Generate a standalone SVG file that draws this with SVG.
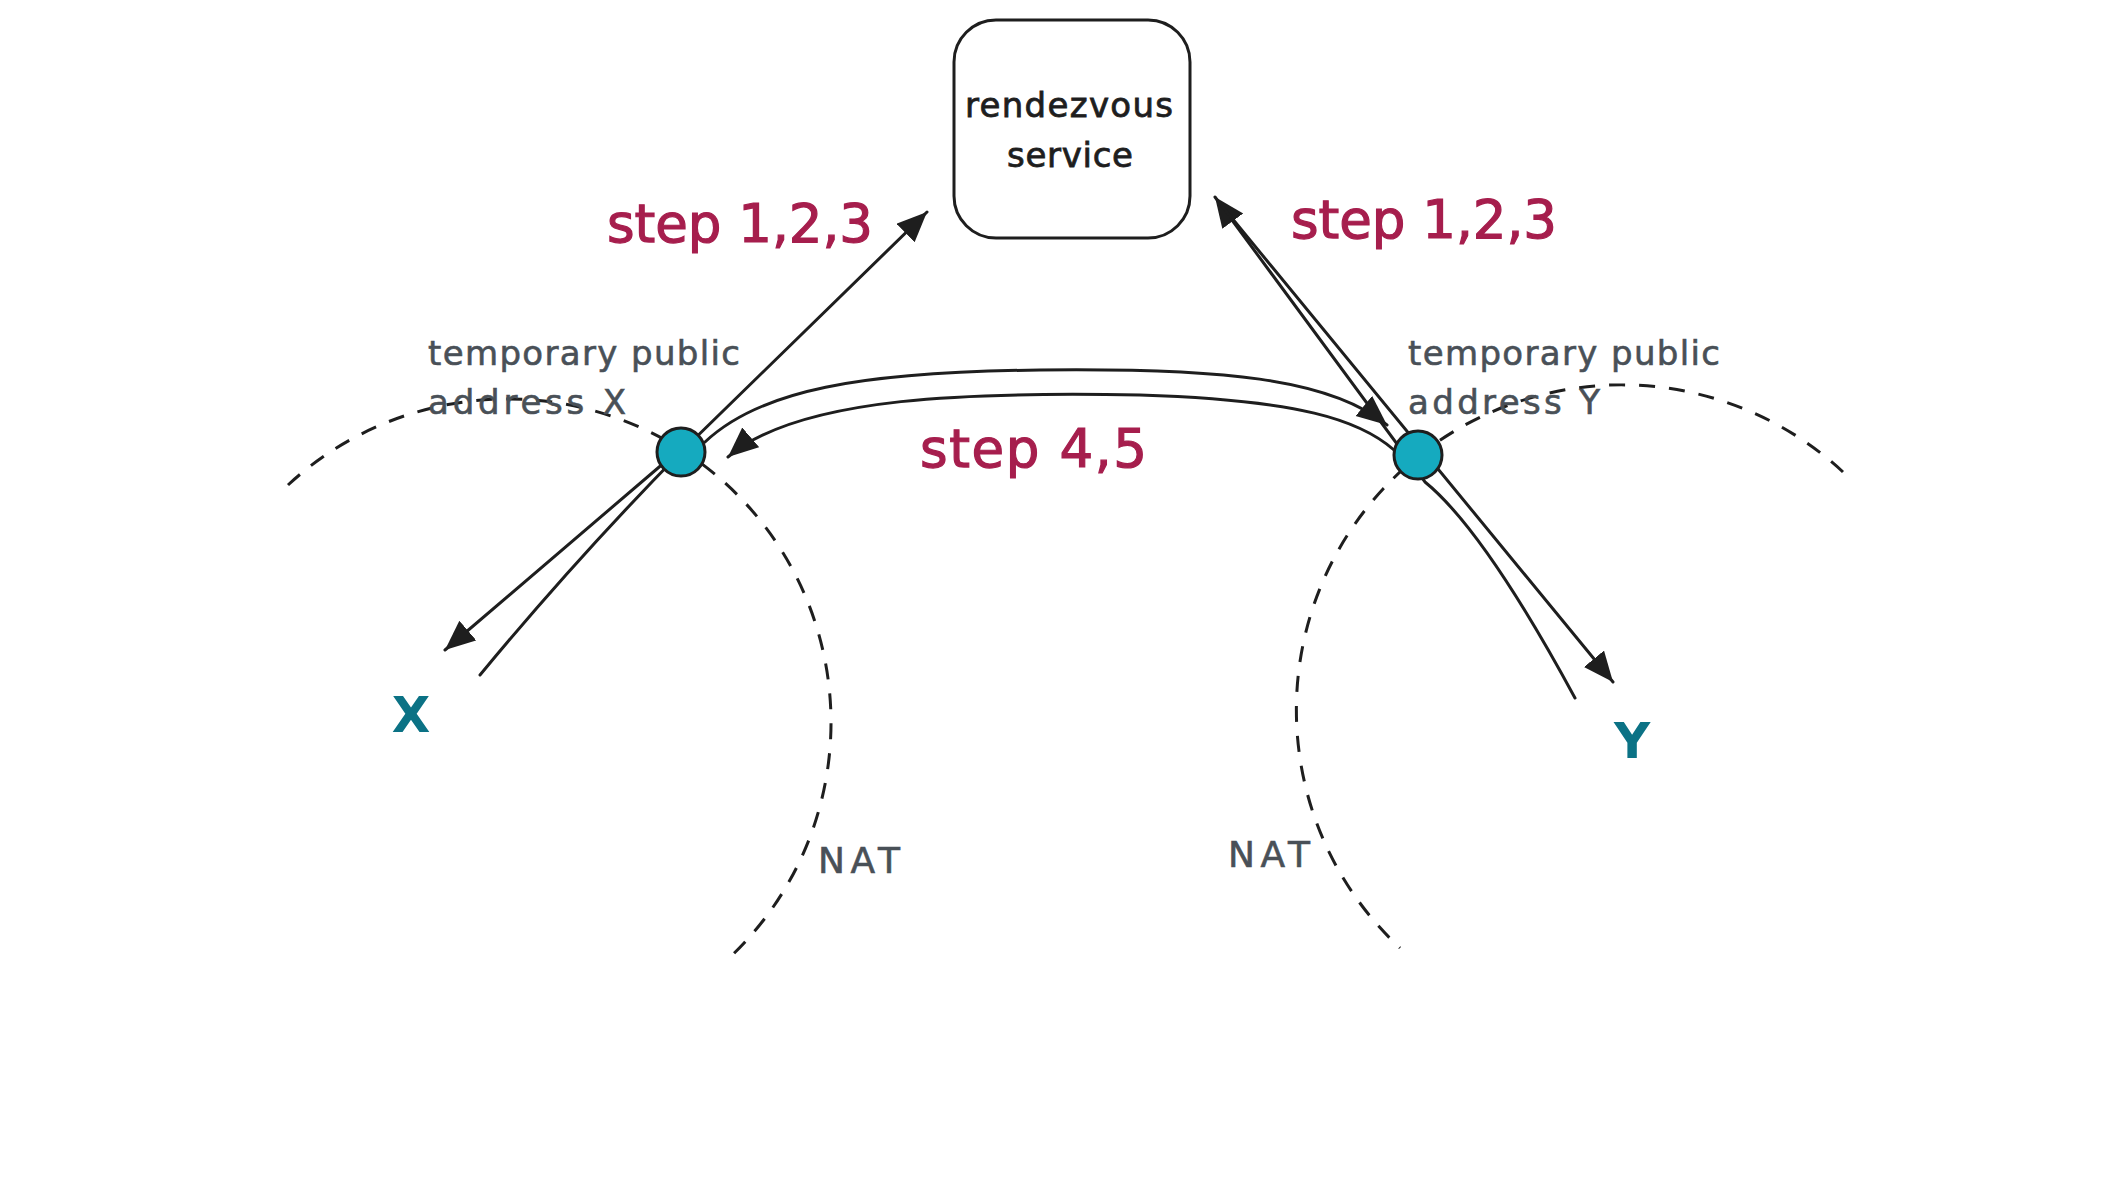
<svg xmlns="http://www.w3.org/2000/svg" width="2123" height="1192" viewBox="0 0 2123 1192">
<style>
  text { font-family: "DejaVu Sans", "Liberation Sans", sans-serif; }
  .step { fill: #a61e4d; stroke: #a61e4d; stroke-width: 1.2; font-size: 53px; }
  .gray { fill: #495057; stroke: #495057; stroke-width: 0.6; font-size: 34px; }
  .nat { fill: #495057; stroke: #495057; stroke-width: 0.6; font-size: 36px; }
  .peer { fill: #0b7285; font-size: 50px; font-weight: bold; }
  .box { fill: #ffffff; stroke: #1e1e1e; stroke-width: 3; }
  .boxtext { fill: #1e1e1e; stroke: #1e1e1e; stroke-width: 0.8; font-size: 34px; }
  .dot { fill: #15aabf; stroke: #1e1e1e; stroke-width: 3; }
  .nat-edge { fill: none; stroke: #1e1e1e; stroke-width: 3; stroke-dasharray: 16 14; }
  .conn { fill: none; stroke: #1e1e1e; stroke-width: 3; stroke-linecap: round; }
  .arrow { marker-end: url(#head); }
</style>
<defs>
  <marker id="head" markerUnits="userSpaceOnUse" markerWidth="34" markerHeight="28" refX="30" refY="13" orient="auto">
    <path d="M0,0 L30,13 L0,26 Z" fill="#1e1e1e"/>
  </marker>
</defs>
<rect width="2123" height="1192" fill="#ffffff"/>

<g id="nat-boundaries">
  <path class="nat-edge" d="M 288 485 A 320 320 0 1 1 727 960"/>
  <path class="nat-edge" d="M 1843 472 A 320 320 0 1 0 1400 948"/>
</g>

<g id="connectors">
  <path class="conn arrow" d="M 480 675 Q 575 560 681 452 L 927 212"/>
  <path class="conn arrow" d="M 665 462 L 445 650"/>
  <path class="conn arrow" d="M 1575 698 Q 1484 530 1425 482 L 1215 197"/>
  <path class="conn arrow" d="M 1222 206 L 1613 682"/>
  <path class="conn arrow" d="M 705 442 C 760 390, 860 372, 1040 370 C 1220 368, 1330 378, 1387 425"/>
  <path class="conn arrow" d="M 1394 450 C 1360 420, 1300 400, 1140 395 C 980 392, 800 395, 728 457"/>
</g>

<g id="rendezvous">
  <rect class="box" x="954" y="20" width="236" height="218" rx="42"/>
  <text class="boxtext" x="965" y="117" textLength="208">rendezvous</text>
  <text class="boxtext" x="1007" y="167" textLength="126">service</text>
</g>

<g id="public-x">
  <circle class="dot" cx="681" cy="452" r="24"/>
</g>
<g id="public-y">
  <circle class="dot" cx="1418" cy="455" r="24"/>
</g>

<g id="labels">
  <text class="step" x="607" y="242" textLength="266">step 1,2,3</text>
  <text class="step" x="1291" y="238" textLength="266">step 1,2,3</text>
  <text class="step" x="920" y="467" textLength="227">step 4,5</text>
  <text class="gray" x="428" y="365" textLength="312">temporary public</text>
  <text class="gray" x="428" y="414" textLength="198">address X</text>
  <text class="gray" x="1408" y="365" textLength="312">temporary public</text>
  <text class="gray" x="1408" y="414" textLength="192">address Y</text>
  <text class="nat" x="818" y="873" textLength="82">NAT</text>
  <text class="nat" x="1228" y="867" textLength="82">NAT</text>
</g>

<g id="peer-x">
  <text class="peer" x="411" y="732" text-anchor="middle">X</text>
</g>
<g id="peer-y">
  <text class="peer" x="1632" y="758" text-anchor="middle">Y</text>
</g>
</svg>
